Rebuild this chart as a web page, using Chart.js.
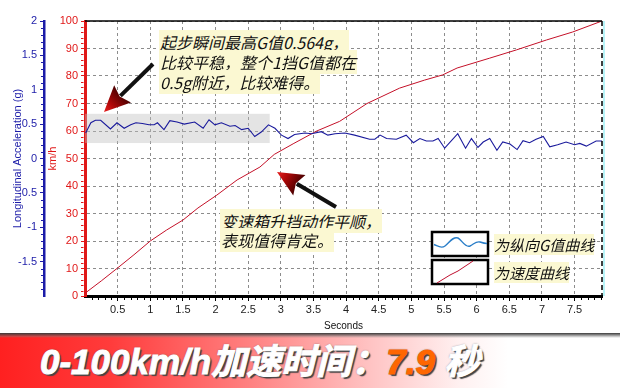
<!DOCTYPE html>
<html>
<head>
<meta charset="utf-8">
<script src="https://cdn.jsdelivr.net/npm/chart.js@4.4.1/dist/chart.umd.min.js"></script>
<style>
  body { margin: 0; background: #fff; }
  #wrap { position: relative; width: 620px; height: 388px; overflow: hidden; background: #fff; }
  #c { display: block; }
  .note { position: absolute; font: italic 16px "Noto Sans CJK SC", sans-serif; line-height: 20px; color: #111; white-space: nowrap; }
  .note span { background: #fbf8d2; padding: 0 1px; }
  .legend-text { position: absolute; font: italic 15px "Noto Sans CJK SC", sans-serif; line-height: 20px; color: #111; white-space: nowrap; }
  .legend-text span { background: #fbf8d2; }
  #banner { position: absolute; left: 0; top: 333px; width: 620px; height: 55px;
    background: linear-gradient(to right, #ff2020 0%, #ff3c3c 18%, #ff8080 40%, #ffc4c4 60%, #fff0f0 74%, #ffffff 82%); }
  #banner .shade { position: absolute; left: 0; top: 0; width: 620px; height: 5px;
    background: linear-gradient(to bottom, #3a3a3a, rgba(120,120,120,0.4) 70%, rgba(255,255,255,0)); }
  #banner .title { position: absolute; left: 40px; top: 7px; font: italic bold 35px "Liberation Sans", "Noto Sans CJK SC", sans-serif;
    line-height: 44px; color: #fff; white-space: nowrap; -webkit-text-stroke: 1px #fff;
    text-shadow: 2px 2px 1px #444, 0 0 2px #555, 1px 1px 0 #777; }
  #banner .num { color: #ff6600; -webkit-text-stroke: 1px #ff6600; }
</style>
</head>
<body>
<div id="wrap">
  <canvas id="c" width="620" height="332"></canvas>
  <div class="note" style="left:159px;top:32px"><span>起步瞬间最高G值0.564g，</span></div>
  <div class="note" style="left:159px;top:52px"><span>比较平稳，整个1挡G值都在</span></div>
  <div class="note" style="left:159px;top:72px"><span>0.5g附近，比较难得。</span></div>
  <div class="note" style="left:220px;top:211px"><span>变速箱升挡动作平顺，</span></div>
  <div class="note" style="left:220px;top:230px"><span>表现值得肯定。</span></div>
  <div class="legend-text" style="left:494px;top:235px"><span>为纵向G值曲线</span></div>
  <div class="legend-text" style="left:494px;top:263px"><span>为速度曲线</span></div>
  <div id="banner">
    <div class="shade"></div>
    <div class="title">0-100km/h加速时间：<span class="num">7.9</span> 秒</div>
  </div>
</div>
<script>
// longitudinal acceleration (g)
const gTime = [0.01, 0.09, 0.16, 0.24, 0.39, 0.49, 0.60, 0.70, 0.78, 0.88, 0.98, 1.06, 1.11, 1.21, 1.30, 1.41, 1.52,
  1.68, 1.81, 1.90, 1.99, 2.09, 2.22, 2.30, 2.40, 2.50, 2.60, 2.70, 2.81, 2.91, 3.01, 3.11, 3.21, 3.37, 3.47, 3.62,
  3.72, 3.83, 3.98, 4.13, 4.36, 4.44, 4.52, 4.62, 4.77, 4.92, 5.03, 5.13, 5.23, 5.33, 5.41, 5.51, 5.71, 5.83, 5.92,
  6.02, 6.10, 6.20, 6.31, 6.40, 6.51, 6.62, 6.71, 6.81, 6.91, 7.02, 7.12, 7.24, 7.37, 7.50, 7.58, 7.68, 7.83, 7.92];
const gValues = [0.37, 0.52, 0.556, 0.556, 0.43, 0.52, 0.44, 0.49, 0.52, 0.51, 0.49, 0.49, 0.52, 0.42, 0.55, 0.53, 0.50,
  0.53, 0.44, 0.564, 0.49, 0.52, 0.47, 0.48, 0.42, 0.44, 0.32, 0.385, 0.49, 0.44, 0.34, 0.29, 0.35, 0.37, 0.36, 0.39,
  0.34, 0.36, 0.37, 0.34, 0.28, 0.28, 0.34, 0.29, 0.28, 0.34, 0.23, 0.29, 0.255, 0.255, 0.29, 0.15, 0.36, 0.15, 0.29,
  0.16, 0.24, 0.29, 0.12, 0.24, 0.21, 0.13, 0.26, 0.23, 0.28, 0.32, 0.17, 0.20, 0.24, 0.20, 0.22, 0.18, 0.255, 0.255];

// vehicle speed (km/h)
const speedTime = [0, 0.25, 0.5, 0.75, 1.0, 1.25, 1.5, 1.73, 2.02, 2.33, 2.68, 2.9, 3.2, 3.55, 3.9, 4.32, 4.82, 5.2,
  5.48, 5.7, 6.2, 6.61, 7.07, 7.47, 7.92];
const speedValues = [1, 5.5, 10.2, 15, 20, 24, 27.6, 32, 36.7, 42.2, 46.9, 51.5, 55.5, 60, 63.5, 70, 75.6, 78.5,
  80.4, 82.9, 86.5, 89.5, 93.1, 96, 100];

// tick labels
const xTicks = [0.5, 1, 1.5, 2, 2.5, 3, 3.5, 4, 4.5, 5, 5.5, 6, 6.5, 7, 7.5];
const gTicks = [-1.5, -1, -0.5, 0, 0.5, 1, 1.5, 2];
const speedTicks = [0, 10, 20, 30, 40, 50, 60, 70, 80, 90, 100];

const BLUE = '#1c1ca8';
const RED = '#e01818';
const tickFont = { family: 'Liberation Sans', size: 11 };

// grey band behind the first-gear part, plus arrows, frame, minor ticks and legend boxes
const decorations = {
  id: 'decorations',
  beforeDatasetsDraw(chart) {
    const { ctx, scales: { x, yG } } = chart;
    const x0 = x.getPixelForValue(0), x1 = x.getPixelForValue(2.83);
    const y0 = yG.getPixelForValue(0.65), y1 = yG.getPixelForValue(0.225);
    ctx.save();
    ctx.fillStyle = 'rgba(190,190,190,0.42)';
    ctx.fillRect(x0, y0, x1 - x0, y1 - y0);
    ctx.restore();
  },
  afterDraw(chart) {
    const { ctx, chartArea: a, scales: { x, yG, ySpeed } } = chart;
    ctx.save();
    // top border
    ctx.strokeStyle = '#000';
    ctx.lineWidth = 1.5;
    ctx.beginPath(); ctx.moveTo(a.left, a.top); ctx.lineTo(a.right, a.top); ctx.stroke();
    // right border: cyan edge + dashed black
    ctx.strokeStyle = '#b8f4f8';
    ctx.lineWidth = 2;
    ctx.beginPath(); ctx.moveTo(a.right + 2, a.top); ctx.lineTo(a.right + 2, a.bottom); ctx.stroke();
    ctx.strokeStyle = '#000';
    ctx.lineWidth = 1.5;
    ctx.setLineDash([5, 3]);
    ctx.beginPath(); ctx.moveTo(a.right, a.top); ctx.lineTo(a.right, a.bottom); ctx.stroke();
    ctx.setLineDash([]);

    // minor ticks
    ctx.lineWidth = 1;
    ctx.strokeStyle = '#000';
    for (let i = 1; i < 80; i++) {
      if (i % 5 === 0) continue;
      const px = Math.round(x.getPixelForValue(i / 10)) + 0.5;
      ctx.beginPath(); ctx.moveTo(px, a.bottom + 1); ctx.lineTo(px, a.bottom + 4); ctx.stroke();
    }
    ctx.strokeStyle = BLUE;
    const gx = yG.right;
    for (let i = -19; i < 20; i++) {
      if (i % 5 === 0) continue;
      const py = Math.round(yG.getPixelForValue(i / 10)) + 0.5;
      ctx.beginPath(); ctx.moveTo(gx - 1, py); ctx.lineTo(gx - 3, py); ctx.stroke();
    }
    ctx.strokeStyle = RED;
    const sx = ySpeed.right;
    for (let v = 2; v < 100; v += 2) {
      if (v % 10 === 0) continue;
      const py = Math.round(ySpeed.getPixelForValue(v)) + 0.5;
      ctx.beginPath(); ctx.moveTo(sx - 1.5, py); ctx.lineTo(sx - 4, py); ctx.stroke();
    }

    // arrows
    drawArrow(ctx, 153, 64, 104, 112);
    drawArrow(ctx, 336, 207, 277, 172);

    // legend boxes
    ctx.lineWidth = 2.5;
    ctx.strokeStyle = '#000';
    ctx.fillStyle = '#fff';
    ctx.fillRect(432, 232, 56, 24);
    ctx.strokeRect(432, 232, 56, 24);
    ctx.fillRect(432, 260, 56, 24);
    ctx.strokeRect(432, 260, 56, 24);
    ctx.lineWidth = 1.4;
    ctx.strokeStyle = '#2a7ec8';
    ctx.beginPath();
    ctx.moveTo(434, 244.5);
    ctx.bezierCurveTo(438, 246, 441, 249, 445, 246);
    ctx.bezierCurveTo(449, 243, 453, 236, 458, 238);
    ctx.bezierCurveTo(462, 240, 465, 248, 470, 246);
    ctx.bezierCurveTo(474, 244, 476, 241, 480, 242);
    ctx.bezierCurveTo(483, 243, 485, 243.5, 487, 243.5);
    ctx.stroke();
    ctx.lineWidth = 1;
    ctx.strokeStyle = '#c01030';
    ctx.beginPath();
    ctx.moveTo(437, 283); ctx.lineTo(450, 275); ctx.lineTo(458, 271); ctx.lineTo(473, 261);
    ctx.stroke();
    ctx.restore();
  }
};

function drawArrow(ctx, tx, ty, hx, hy) {
  const dx = hx - tx, dy = hy - ty;
  const len = Math.hypot(dx, dy);
  const ux = dx / len, uy = dy / len;
  const px = -uy, py = ux;
  const headLen = 26, headW = 12;
  const bx = hx - ux * headLen, by = hy - uy * headLen;
  ctx.strokeStyle = '#111';
  ctx.lineWidth = 4;
  ctx.beginPath(); ctx.moveTo(tx, ty); ctx.lineTo(bx + ux * 3, by + uy * 3); ctx.stroke();
  const grad = ctx.createLinearGradient(bx, by, hx, hy);
  grad.addColorStop(0, '#4a0000');
  grad.addColorStop(0.6, '#b00808');
  grad.addColorStop(1, '#e82020');
  ctx.fillStyle = grad;
  ctx.beginPath();
  ctx.moveTo(hx, hy);
  ctx.lineTo(bx + px * headW, by + py * headW);
  ctx.lineTo(bx + ux * 4, by + uy * 4);
  ctx.lineTo(bx - px * headW, by - py * headW);
  ctx.closePath();
  ctx.fill();
}

const ctx = document.getElementById('c').getContext('2d');

new Chart(ctx, {
  type: 'line',
  data: {
    datasets: [
      {
        label: '纵向G值',
        data: gTime.map((t, i) => ({ x: t, y: gValues[i] })),
        yAxisID: 'yG',
        borderColor: '#1a1a9c',
        borderWidth: 1.1,
        pointRadius: 0,
        tension: 0
      },
      {
        label: '速度',
        data: speedTime.map((t, i) => ({ x: t, y: speedValues[i] })),
        yAxisID: 'ySpeed',
        borderColor: '#c41028',
        borderWidth: 1,
        pointRadius: 0,
        tension: 0
      }
    ]
  },
  options: {
    responsive: false,
    animation: false,
    layout: { padding: { top: 21, right: 18, left: 0, bottom: 0 } },
    plugins: {
      legend: { display: false },
      tooltip: { enabled: false }
    },
    scales: {
      x: {
        type: 'linear',
        min: 0,
        max: 7.92,
        afterBuildTicks: s => { s.ticks = xTicks.map(v => ({ value: v })); },
        afterFit: s => { s.height = 36; },
        ticks: { color: '#222', font: tickFont, padding: 2, maxRotation: 0, callback: v => String(v) },
        grid: { color: '#8c8c8c', tickColor: '#000', tickLength: 5 },
        border: { color: '#000', width: 3, dash: [3, 3] },
        title: { display: true, text: 'Seconds', color: '#111', font: { family: 'Liberation Sans', size: 10 }, padding: { top: 2, bottom: 0 } }
      },
      ySpeed: {
        type: 'linear',
        position: 'left',
        weight: 0,
        min: 0,
        max: 100,
        afterBuildTicks: s => { s.ticks = speedTicks.map(v => ({ value: v })); },
        afterFit: s => { s.width = 41; },
        ticks: { color: RED, font: tickFont, padding: 3, callback: v => String(v) },
        grid: { color: '#8c8c8c', tickColor: RED, tickLength: 4 },
        border: { color: RED, width: 3, dash: [3, 3] },
        title: { display: true, text: 'km/h', color: RED, font: { family: 'Liberation Sans', size: 11 }, padding: { top: 2, bottom: 0 } }
      },
      yG: {
        type: 'linear',
        position: 'left',
        weight: 1,
        min: -2,
        max: 2,
        afterBuildTicks: s => { s.ticks = gTicks.map(v => ({ value: v })); },
        afterFit: s => { s.width = 44; },
        ticks: { color: BLUE, font: tickFont, padding: 3, callback: v => String(v) },
        grid: { drawOnChartArea: false, color: BLUE, tickLength: 4 },
        border: { color: BLUE, width: 2.5 },
        title: { display: true, text: 'Longitudinal Acceleration (g)', color: BLUE, font: { family: 'Liberation Sans', size: 11 }, padding: { top: 11, bottom: 0 } }
      }
    }
  },
  plugins: [decorations]
});
</script>
</body>
</html>
